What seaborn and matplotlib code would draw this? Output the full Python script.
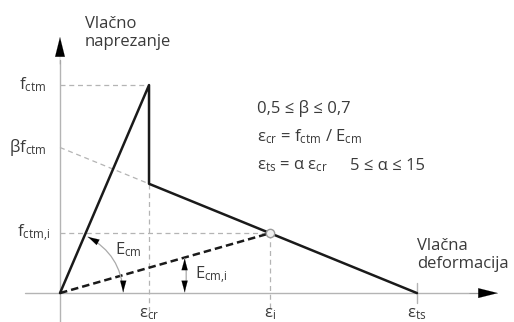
import numpy as np
import matplotlib
matplotlib.use("Agg")
import matplotlib.pyplot as plt
import seaborn as sns

# values in relative units: strain / eps_cr, stress / f_ctm
eps_cr = 1.0
eps_i = 2.36
eps_ts = 4.01
f_ctm = 1.0
beta = 0.70
f_ctm_i = beta * (1 - eps_i / eps_ts)
f_res = beta * (1 - eps_cr / eps_ts)

# stress-strain diagram (solid)
curve_x = [0, eps_cr, eps_cr, eps_ts]
curve_y = [0, f_ctm, f_res, 0]
# secant line (dashed)
secant_x = [0, eps_i]
secant_y = [0, f_ctm_i]
# beta*fctm helper line
helper_x = [0, eps_cr]
helper_y = [beta * f_ctm, f_res]

sns.set_style("white")
plt.rcParams['font.family'] = ['Open Sans', 'DejaVu Sans']
plt.rcParams['mathtext.fontset'] = 'custom'
plt.rcParams['mathtext.rm'] = 'Open Sans'
plt.rcParams['mathtext.it'] = 'Open Sans'

TXT = '#3a3a3a'
GRAY = '#b4b4b4'

fig = plt.figure(figsize=(5.14, 3.22), dpi=100)
ax = fig.add_axes([0, 0, 1, 1])
ax.set_xlim(-0.674, 5.10)
ax.set_ylim(-0.139, 1.409)
ax.axis('off')

# axes lines
ax.plot([-0.39, 4.7], [0, 0], color=GRAY, lw=1)
ax.plot([0, 0], [-0.2, 1.12], color=GRAY, lw=1)
ax.annotate('', xy=(4.92, 0), xytext=(4.6, 0),
            arrowprops=dict(arrowstyle='-|>,head_length=1.4,head_width=0.35',
                            color='black', lw=0.1, shrinkA=0, shrinkB=0))
ax.annotate('', xy=(0, 1.231), xytext=(0, 1.1),
            arrowprops=dict(arrowstyle='-|>,head_length=1.4,head_width=0.35',
                            color='black', lw=0.1, shrinkA=0, shrinkB=0))

# helper dashed lines
dash = (0, (4, 3))
ax.plot([0, eps_cr], [f_ctm, f_ctm], color=GRAY, lw=0.9, ls=dash)
ax.plot([0, eps_i], [f_ctm_i, f_ctm_i], color=GRAY, lw=0.9, ls=dash)
ax.plot(helper_x, helper_y, color=GRAY, lw=0.9, ls=dash)
ax.plot([eps_cr, eps_cr], [f_res, -0.085], color=GRAY, lw=0.9, ls=dash)
ax.plot([eps_i, eps_i], [f_ctm_i, -0.085], color=GRAY, lw=0.9, ls=dash)
ax.plot([eps_ts, eps_ts], [0.05, -0.05], color=GRAY, lw=1)

# main curves
sns.lineplot(x=curve_x, y=curve_y, sort=False, estimator=None, color='#1a1a1a',
             lw=1.8, ax=ax)
sns.lineplot(x=secant_x, y=secant_y, sort=False, estimator=None, color='#1a1a1a',
             lw=1.8, linestyle=(0, (3, 1.6)), ax=ax)
ax.plot([eps_i], [f_ctm_i], marker='o', ms=6, mfc='#f0f0f0', mec='#999999', mew=1)

# modulus arcs (gray) with black heads
ax.annotate('', xy=(0.315, 0.27), xytext=(0.71, 0.005),
            arrowprops=dict(arrowstyle='-', color='#aaaaaa', lw=0.9,
                            shrinkA=0, shrinkB=0, connectionstyle='arc3,rad=0.28'))
ax.annotate('', xy=(1.40, 0.165), xytext=(1.40, 0.005),
            arrowprops=dict(arrowstyle='-', color='#aaaaaa', lw=0.9,
                            shrinkA=0, shrinkB=0, connectionstyle='arc3,rad=0.1'))
head = dict(arrowstyle='-|>,head_length=0.8,head_width=0.22', color='black',
            lw=0.1, shrinkA=0, shrinkB=0)
for tip, tail in [((0.315, 0.27), (0.38, 0.255)),
                  ((0.71, 0.005), (0.71, 0.04)),
                  ((1.40, 0.165), (1.40, 0.13)),
                  ((1.40, 0.005), (1.40, 0.04))]:
    ax.annotate('', xy=tip, xytext=tail, arrowprops=head)

# labels
fs = 12
ax.text(0.28, 1.25, 'Vlačno\nnaprezanje', fontsize=fs, color=TXT,
        ha='left', va='center', linespacing=1.2)
ax.text(4.01, 0.183, 'Vlačna\ndeformacija', fontsize=fs, color=TXT,
        ha='left', va='center', linespacing=1.1)
ax.text(-0.15, f_ctm, r'f$_{\mathregular{ctm}}$', fontsize=fs, color=TXT, ha='right', va='center')
ax.text(-0.15, beta * f_ctm, r'βf$_{\mathregular{ctm}}$', fontsize=fs, color=TXT, ha='right', va='center')
ax.text(-0.11, f_ctm_i, r'f$_{\mathregular{ctm{,}i}}$', fontsize=fs, color=TXT, ha='right', va='center')
ax.text(eps_cr, -0.10, r'ε$_{\mathregular{cr}}$', fontsize=fs, color=TXT, ha='center', va='center')
ax.text(eps_i, -0.10, r'ε$_{\mathregular{i}}$', fontsize=fs, color=TXT, ha='center', va='center')
ax.text(eps_ts, -0.10, r'ε$_{\mathregular{ts}}$', fontsize=fs, color=TXT, ha='center', va='center')
ax.text(0.62, 0.207, r'E$_{\mathregular{cm}}$', fontsize=fs, color=TXT, ha='left', va='center')
ax.text(1.52, 0.087, r'E$_{\mathregular{cm{,}i}}$', fontsize=fs, color=TXT, ha='left', va='center')

ax.text(2.213, 0.885, '0,5 ≤ β ≤ 0,7', fontsize=fs, color=TXT, ha='left', va='center')
ax.text(2.213, 0.75, r'ε$_{\mathregular{cr}}$ = f$_{\mathregular{ctm}}$ / E$_{\mathregular{cm}}$',
        fontsize=fs, color=TXT, ha='left', va='center')
ax.text(2.213, 0.611, r'ε$_{\mathregular{ts}}$ = α ε$_{\mathregular{cr}}$',
        fontsize=fs, color=TXT, ha='left', va='center')
ax.text(3.258, 0.611, '5 ≤ α ≤ 15', fontsize=fs, color=TXT, ha='left', va='center')

fig.savefig('out.png', dpi=100)
